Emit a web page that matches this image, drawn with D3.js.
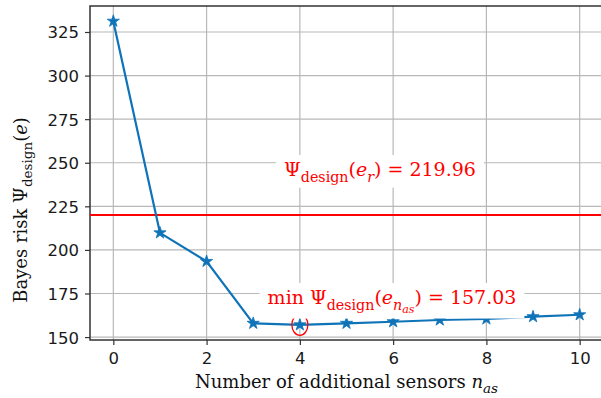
<!DOCTYPE html>
<html>
<head>
<meta charset="utf-8">
<script src="https://cdn.jsdelivr.net/npm/d3@7"></script>
<style>
  html, body { margin: 0; padding: 0; background: #fff; }
  svg { display: block; }
  .tick text { font-family: "DejaVu Sans", sans-serif; font-size: 16.5px; fill: #1a1a1a; }
  .serif { font-family: "DejaVu Serif", "Liberation Serif", serif; }
</style>
</head>
<body>
<svg id="chart" width="601" height="398"></svg>
<script>
// Bayes risk of the sensor design versus the number of additional sensors
const sensorCounts = [0, 1, 2, 3, 4, 5, 6, 7, 8, 9, 10];
const bayesRisk = [331.2, 209.8, 193.4, 157.9, 157.03, 157.9, 158.8, 159.8, 160.4, 161.7, 162.8];
const referenceRisk = 219.96;   // risk of the reference design e_r
const minIndex = 4;             // design with the lowest risk
const xTicks = [0, 2, 4, 6, 8, 10];
const yTicks = [150, 175, 200, 225, 250, 275, 300, 325];

const svg = d3.select("#chart");
const plot = { left: 90, right: 603, top: 6, bottom: 340 };

const x = d3.scaleLinear().domain([-0.5, 10.5]).range([plot.left, plot.right]);
const lo = d3.min(bayesRisk), hi = d3.max(bayesRisk), pad = (hi - lo) * 0.05;
const y = d3.scaleLinear().domain([lo - pad, hi + pad]).range([plot.bottom, plot.top]);

const blue = "#0f73b8";
const red = "#ff0000";

// grid
const grid = svg.append("g").attr("stroke", "#b8b8b8").attr("stroke-width", 1.2);
grid.selectAll("line.gx").data(xTicks).join("line")
  .attr("x1", d => x(d)).attr("x2", d => x(d))
  .attr("y1", plot.top).attr("y2", plot.bottom);
grid.selectAll("line.gy").data(yTicks).join("line")
  .attr("x1", plot.left).attr("x2", plot.right)
  .attr("y1", d => y(d)).attr("y2", d => y(d));

// axes
const xAxis = svg.append("g")
  .attr("transform", `translate(0,${plot.bottom})`)
  .call(d3.axisBottom(x).tickValues(xTicks).tickSize(5).tickPadding(6).tickSizeOuter(0));
const yAxis = svg.append("g")
  .attr("transform", `translate(${plot.left},0)`)
  .call(d3.axisLeft(y).tickValues(yTicks).tickSize(5).tickPadding(6).tickSizeOuter(0));
[xAxis, yAxis].forEach(a => {
  a.select(".domain").remove();
  a.selectAll(".tick line").attr("stroke", "#333").attr("stroke-width", 1.2);
});
yAxis.selectAll(".tick text").attr("dy", "0.36em");
xAxis.selectAll(".tick text").attr("dy", "0.76em");

// spines
const spine = svg.append("g").attr("stroke", "#333").attr("stroke-width", 1.5).attr("fill", "none");
spine.append("path").attr("d",
  `M${plot.right},${plot.top}H${plot.left}V${plot.bottom}H${plot.right}`);

// reference risk line
svg.append("line")
  .attr("x1", plot.left).attr("x2", plot.right)
  .attr("y1", y(referenceRisk)).attr("y2", y(referenceRisk))
  .attr("stroke", red).attr("stroke-width", 2);

// risk curve
const line = d3.line().x((d, i) => x(sensorCounts[i])).y(d => y(d));
svg.append("path").datum(bayesRisk)
  .attr("d", line).attr("fill", "none")
  .attr("stroke", blue).attr("stroke-width", 2.2);
const star = d3.symbol().type(d3.symbolStar).size(46);
svg.selectAll("path.pt").data(bayesRisk).join("path")
  .attr("class", "pt")
  .attr("transform", (d, i) => `translate(${x(sensorCounts[i])},${y(d)})`)
  .attr("d", star).attr("fill", blue).attr("stroke", blue).attr("stroke-width", 0.8);

// ring around the minimum
svg.append("ellipse")
  .attr("cx", x(sensorCounts[minIndex])).attr("cy", y(bayesRisk[minIndex]))
  .attr("rx", 8).attr("ry", 10.5)
  .attr("fill", "none").attr("stroke", red).attr("stroke-width", 1.3);

// rich text helper: runs of [text, style]
function richText(g, runs, size) {
  const t = g.append("text").attr("class", "serif").attr("font-size", size);
  let shift = 0;
  runs.forEach(([s, st]) => {
    const level = st.includes("sub2") ? 2 : st.includes("sub") ? 1 : 0;
    const target = level === 2 ? size * 0.45 : level === 1 ? size * 0.3 : 0;
    const fs = level === 2 ? size * 0.58 : level === 1 ? size * 0.75 : size;
    t.append("tspan").text(s)
      .attr("dy", target - shift)
      .attr("font-size", fs)
      .attr("font-style", st.includes("i") && !st.includes("up") ? "italic" : "normal");
    shift = target;
  });
  return t;
}

function boxedLabel(cx, cy, runs, size) {
  const g = svg.append("g");
  const rect = g.append("rect").attr("fill", "#fff");
  const t = richText(g, runs, size).attr("fill", red);
  const bb = t.node().getBBox();
  t.attr("transform", `translate(${cx - bb.width / 2 - bb.x},${cy})`);
  const b2 = t.node().getBBox();
  rect.attr("x", cx - bb.width / 2 - 8).attr("y", cy + b2.y - 3)
    .attr("width", bb.width + 16).attr("height", b2.height + 6);
}

boxedLabel(380, 176, [
  ["Ψ", "up"], ["design", "sub up"], ["(", "up"], ["e", "i"], ["r", "sub i"],
  [") = " + referenceRisk.toFixed(2), "up"]
], 19);

boxedLabel(392, 304, [
  ["min Ψ", "up"], ["design", "sub up"], ["(", "up"], ["e", "i"], ["n", "sub i"],
  ["as", "sub2 i"], [") = " + bayesRisk[minIndex].toFixed(2), "up"]
], 19);

// axis titles
const xt = richText(svg.append("g"), [
  ["Number of additional sensors ", "up"], ["n", "i"], ["as", "sub i"]
], 18).attr("fill", "#111");
const xb = xt.node().getBBox();
xt.attr("transform", `translate(${(x(0) + x(10)) / 2 - xb.width / 2 - xb.x},388)`);

const ytG = svg.append("g");
const yt = richText(ytG, [
  ["Bayes risk Ψ", "up"], ["design", "sub up"], ["(", "up"], ["e", "i"], [")", "up"]
], 18).attr("fill", "#111");
const yb = yt.node().getBBox();
yt.attr("transform", `translate(27,210) rotate(-90) translate(${-yb.width / 2 - yb.x},0)`);
</script>
</body>
</html>
